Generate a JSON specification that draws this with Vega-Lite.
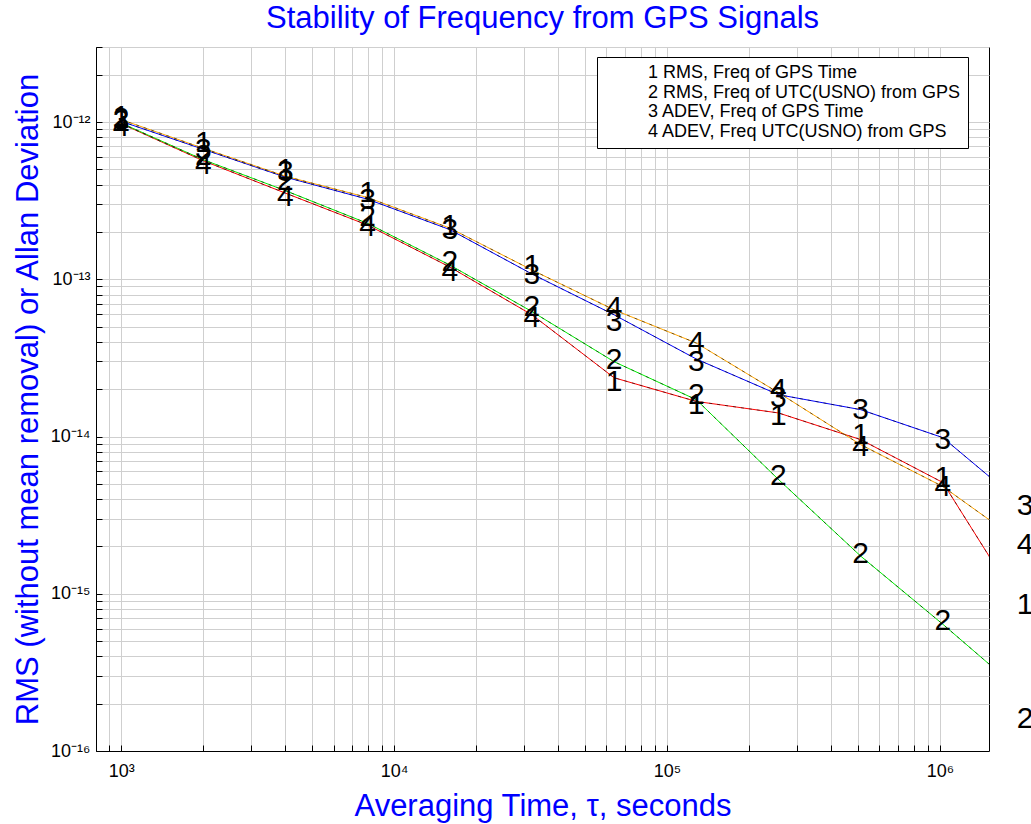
{
  "$schema": "https://vega.github.io/schema/vega-lite/v6.json",
  "width": 893,
  "height": 704,
  "autosize": {"type": "none"},
  "padding": {"left": 96, "top": 47, "right": 42, "bottom": 73},
  "background": "white",
  "config": {
    "view": {"stroke": "black", "strokeWidth": 1},
    "font": "Liberation Sans"
  },
  "title": {
    "text": "Stability of Frequency from GPS Signals",
    "color": "blue",
    "fontSize": 31,
    "fontWeight": "normal",
    "font": "Liberation Sans",
    "anchor": "middle",
    "offset": 3
  },
  "datasets": {
    "lines": [
      {"tau": 1000, "series": "1 RMS, Freq of GPS Time", "value": 9.77e-13},
      {"tau": 2000, "series": "1 RMS, Freq of GPS Time", "value": 5.67e-13},
      {"tau": 4000, "series": "1 RMS, Freq of GPS Time", "value": 3.53e-13},
      {"tau": 8000, "series": "1 RMS, Freq of GPS Time", "value": 2.21e-13},
      {"tau": 16000, "series": "1 RMS, Freq of GPS Time", "value": 1.197e-13},
      {"tau": 32000, "series": "1 RMS, Freq of GPS Time", "value": 5.94e-14},
      {"tau": 64000, "series": "1 RMS, Freq of GPS Time", "value": 2.364e-14},
      {"tau": 128000, "series": "1 RMS, Freq of GPS Time", "value": 1.672e-14},
      {"tau": 256000, "series": "1 RMS, Freq of GPS Time", "value": 1.412e-14},
      {"tau": 512000, "series": "1 RMS, Freq of GPS Time", "value": 9.56e-15},
      {"tau": 1024000, "series": "1 RMS, Freq of GPS Time", "value": 5.1e-15},
      {"tau": 2048000, "series": "1 RMS, Freq of GPS Time", "value": 7.52e-16},
      {"tau": 1000, "series": "2 RMS, Freq of UTC(USNO) from GPS", "value": 9.85e-13},
      {"tau": 2000, "series": "2 RMS, Freq of UTC(USNO) from GPS", "value": 5.76e-13},
      {"tau": 4000, "series": "2 RMS, Freq of UTC(USNO) from GPS", "value": 3.66e-13},
      {"tau": 8000, "series": "2 RMS, Freq of UTC(USNO) from GPS", "value": 2.266e-13},
      {"tau": 16000, "series": "2 RMS, Freq of UTC(USNO) from GPS", "value": 1.232e-13},
      {"tau": 32000, "series": "2 RMS, Freq of UTC(USNO) from GPS", "value": 6.23e-14},
      {"tau": 64000, "series": "2 RMS, Freq of UTC(USNO) from GPS", "value": 2.99e-14},
      {"tau": 128000, "series": "2 RMS, Freq of UTC(USNO) from GPS", "value": 1.714e-14},
      {"tau": 256000, "series": "2 RMS, Freq of UTC(USNO) from GPS", "value": 5.33e-15},
      {"tau": 512000, "series": "2 RMS, Freq of UTC(USNO) from GPS", "value": 1.737e-15},
      {"tau": 1024000, "series": "2 RMS, Freq of UTC(USNO) from GPS", "value": 6.4e-16},
      {"tau": 2048000, "series": "2 RMS, Freq of UTC(USNO) from GPS", "value": 2.27e-16},
      {"tau": 1000, "series": "3 ADEV, Freq of GPS Time", "value": 1.01e-12},
      {"tau": 2000, "series": "3 ADEV, Freq of GPS Time", "value": 6.71e-13},
      {"tau": 4000, "series": "3 ADEV, Freq of GPS Time", "value": 4.46e-13},
      {"tau": 8000, "series": "3 ADEV, Freq of GPS Time", "value": 3.23e-13},
      {"tau": 16000, "series": "3 ADEV, Freq of GPS Time", "value": 2.07e-13},
      {"tau": 32000, "series": "3 ADEV, Freq of GPS Time", "value": 1.08e-13},
      {"tau": 64000, "series": "3 ADEV, Freq of GPS Time", "value": 5.94e-14},
      {"tau": 128000, "series": "3 ADEV, Freq of GPS Time", "value": 3.11e-14},
      {"tau": 256000, "series": "3 ADEV, Freq of GPS Time", "value": 1.845e-14},
      {"tau": 512000, "series": "3 ADEV, Freq of GPS Time", "value": 1.482e-14},
      {"tau": 1024000, "series": "3 ADEV, Freq of GPS Time", "value": 9.84e-15},
      {"tau": 2048000, "series": "3 ADEV, Freq of GPS Time", "value": 3.59e-15},
      {"tau": 1000, "series": "4 ADEV, Freq UTC(USNO) from GPS", "value": 1.036e-12},
      {"tau": 2000, "series": "4 ADEV, Freq UTC(USNO) from GPS", "value": 6.81e-13},
      {"tau": 4000, "series": "4 ADEV, Freq UTC(USNO) from GPS", "value": 4.52e-13},
      {"tau": 8000, "series": "4 ADEV, Freq UTC(USNO) from GPS", "value": 3.31e-13},
      {"tau": 16000, "series": "4 ADEV, Freq UTC(USNO) from GPS", "value": 2.116e-13},
      {"tau": 32000, "series": "4 ADEV, Freq UTC(USNO) from GPS", "value": 1.146e-13},
      {"tau": 64000, "series": "4 ADEV, Freq UTC(USNO) from GPS", "value": 6.39e-14},
      {"tau": 128000, "series": "4 ADEV, Freq UTC(USNO) from GPS", "value": 3.93e-14},
      {"tau": 256000, "series": "4 ADEV, Freq UTC(USNO) from GPS", "value": 1.9e-14},
      {"tau": 512000, "series": "4 ADEV, Freq UTC(USNO) from GPS", "value": 8.88e-15},
      {"tau": 1024000, "series": "4 ADEV, Freq UTC(USNO) from GPS", "value": 4.81e-15},
      {"tau": 2048000, "series": "4 ADEV, Freq UTC(USNO) from GPS", "value": 2.03e-15}
    ],
    "labels": [
      {"tau": 1000, "label": "1", "value": 1.071e-12},
      {"tau": 2000, "label": "1", "value": 7.32e-13},
      {"tau": 4000, "label": "1", "value": 4.94e-13},
      {"tau": 8000, "label": "1", "value": 3.53e-13},
      {"tau": 16000, "label": "1", "value": 2.18e-13},
      {"tau": 32000, "label": "1", "value": 1.214e-13},
      {"tau": 64000, "label": "1", "value": 2.23e-14},
      {"tau": 128000, "label": "1", "value": 1.594e-14},
      {"tau": 256000, "label": "1", "value": 1.357e-14},
      {"tau": 512000, "label": "1", "value": 1.028e-14},
      {"tau": 1024000, "label": "1", "value": 5.48e-15},
      {"tau": 2048000, "label": "1", "value": 8.45e-16},
      {"tau": 1000, "label": "2", "value": 1.04e-12},
      {"tau": 2000, "label": "2", "value": 6.06e-13},
      {"tau": 4000, "label": "2", "value": 4.2e-13},
      {"tau": 8000, "label": "2", "value": 2.48e-13},
      {"tau": 16000, "label": "2", "value": 1.288e-13},
      {"tau": 32000, "label": "2", "value": 6.67e-14},
      {"tau": 64000, "label": "2", "value": 3.08e-14},
      {"tau": 128000, "label": "2", "value": 1.845e-14},
      {"tau": 256000, "label": "2", "value": 5.57e-15},
      {"tau": 512000, "label": "2", "value": 1.78e-15},
      {"tau": 1024000, "label": "2", "value": 6.69e-16},
      {"tau": 2048000, "label": "2", "value": 1.598e-16},
      {"tau": 1000, "label": "3", "value": 1.01e-12},
      {"tau": 2000, "label": "3", "value": 6.61e-13},
      {"tau": 4000, "label": "3", "value": 4.8e-13},
      {"tau": 8000, "label": "3", "value": 3.18e-13},
      {"tau": 16000, "label": "3", "value": 2.055e-13},
      {"tau": 32000, "label": "3", "value": 1.065e-13},
      {"tau": 64000, "label": "3", "value": 5.36e-14},
      {"tau": 128000, "label": "3", "value": 2.99e-14},
      {"tau": 256000, "label": "3", "value": 1.765e-14},
      {"tau": 512000, "label": "3", "value": 1.482e-14},
      {"tau": 1024000, "label": "3", "value": 9.56e-15},
      {"tau": 2048000, "label": "3", "value": 3.64e-15},
      {"tau": 1000, "label": "4", "value": 9.26e-13},
      {"tau": 2000, "label": "4", "value": 5.31e-13},
      {"tau": 4000, "label": "4", "value": 3.33e-13},
      {"tau": 8000, "label": "4", "value": 2.15e-13},
      {"tau": 16000, "label": "4", "value": 1.112e-13},
      {"tau": 32000, "label": "4", "value": 5.68e-14},
      {"tau": 64000, "label": "4", "value": 6.57e-14},
      {"tau": 128000, "label": "4", "value": 3.94e-14},
      {"tau": 256000, "label": "4", "value": 1.984e-14},
      {"tau": 512000, "label": "4", "value": 8.63e-15},
      {"tau": 1024000, "label": "4", "value": 4.74e-15},
      {"tau": 2048000, "label": "4", "value": 2.03e-15}
    ]
  },
  "layer": [
    {
      "data": {"name": "lines"},
      "mark": {"type": "line", "clip": true, "strokeWidth": 1},
      "encoding": {
        "x": {
          "field": "tau",
          "type": "quantitative",
          "scale": {"type": "log", "domain": [809, 1512000], "nice": false},
          "axis": {
            "title": "Averaging Time, τ, seconds",
            "titleFontSize": 31,
            "titleFont": "Liberation Sans",
            "titleFontWeight": "normal",
            "titleColor": "blue",
            "titleY": 55,
            "titleBaseline": "middle",
            "values": [900, 1000, 2000, 3000, 4000, 5000, 6000, 7000, 8000, 9000, 10000, 20000, 30000, 40000, 50000, 60000, 70000, 80000, 90000, 100000, 200000, 300000, 400000, 500000, 600000, 700000, 800000, 900000, 1000000],
            "labelExpr": "datum.value == 1000 ? '10³' : datum.value == 10000 ? '10⁴' : datum.value == 100000 ? '10⁵' : datum.value == 1000000 ? '10⁶' : ''",
            "labelFontSize": 18,
            "labelColor": "black",
            "labelFlush": false,
            "labelOverlap": false,
            "labelPadding": 17,
            "grid": true,
            "gridColor": "#cfcfcf",
            "gridWidth": 1,
            "tickSize": -6,
            "tickColor": "black",
            "domainColor": "black"
          }
        },
        "y": {
          "field": "value",
          "type": "quantitative",
          "scale": {"type": "log", "domain": [1e-16, 3e-12], "nice": false},
          "axis": {
            "title": "RMS (without mean removal) or Allan Deviation",
            "titleFontSize": 31,
            "titleFont": "Liberation Sans",
            "titleFontWeight": "normal",
            "titleColor": "blue",
            "titleX": -68,
            "titleY": 352,
            "titleAngle": -90,
            "titleAlign": "center",
            "titleBaseline": "middle",
            "values": [1e-16, 2e-16, 3e-16, 4e-16, 5e-16, 6e-16, 7e-16, 8e-16, 9e-16, 1e-15, 2e-15, 3e-15, 4e-15, 5e-15, 6e-15, 7e-15, 8e-15, 9e-15, 1e-14, 2e-14, 3e-14, 4e-14, 5e-14, 6e-14, 7e-14, 8e-14, 9e-14, 1e-13, 2e-13, 3e-13, 4e-13, 5e-13, 6e-13, 7e-13, 8e-13, 9e-13, 1e-12, 2e-12, 3e-12],
            "labelExpr": "datum.value == 1e-16 ? '10⁻¹⁶' : datum.value == 1e-15 ? '10⁻¹⁵' : datum.value == 1e-14 ? '10⁻¹⁴' : datum.value == 1e-13 ? '10⁻¹³' : datum.value == 1e-12 ? '10⁻¹²' : ''",
            "labelFontSize": 18,
            "labelColor": "black",
            "labelFlush": false,
            "labelOverlap": false,
            "labelPadding": 12,
            "grid": true,
            "gridColor": "#cfcfcf",
            "gridWidth": 1,
            "tickSize": -6,
            "tickColor": "black",
            "domainColor": "black"
          }
        },
        "color": {
          "field": "series",
          "type": "nominal",
          "scale": {
            "domain": ["1 RMS, Freq of GPS Time", "2 RMS, Freq of UTC(USNO) from GPS", "3 ADEV, Freq of GPS Time", "4 ADEV, Freq UTC(USNO) from GPS"],
            "range": ["#ff0000", "#00ee00", "#0000ff", "#ffa500"]
          },
          "legend": {
            "orient": "none",
            "legendX": 501,
            "legendY": 10,
            "title": null,
            "symbolOpacity": 0,
            "symbolSize": 0,
            "symbolStrokeWidth": 0,
            "labelFontSize": 18,
            "labelFont": "Liberation Sans",
            "labelColor": "black",
            "labelLimit": 500,
            "labelOffset": 26,
            "rowPadding": 1.5,
            "padding": 7,
            "strokeColor": "black",
            "fillColor": "white"
          }
        }
      }
    },
    {
      "data": {"name": "lines"},
      "mark": {"type": "line", "clip": true, "strokeWidth": 1, "color": "black", "strokeDash": [3, 5], "opacity": 0.55},
      "encoding": {
        "x": {"field": "tau", "type": "quantitative"},
        "y": {"field": "value", "type": "quantitative"},
        "detail": {"field": "series", "type": "nominal"}
      }
    },
    {
      "data": {"name": "labels"},
      "mark": {"type": "text", "fontSize": 30, "font": "Liberation Sans", "align": "center", "baseline": "middle", "color": "black"},
      "encoding": {
        "x": {"field": "tau", "type": "quantitative"},
        "y": {"field": "value", "type": "quantitative"},
        "text": {"field": "label"}
      }
    }
  ]
}
